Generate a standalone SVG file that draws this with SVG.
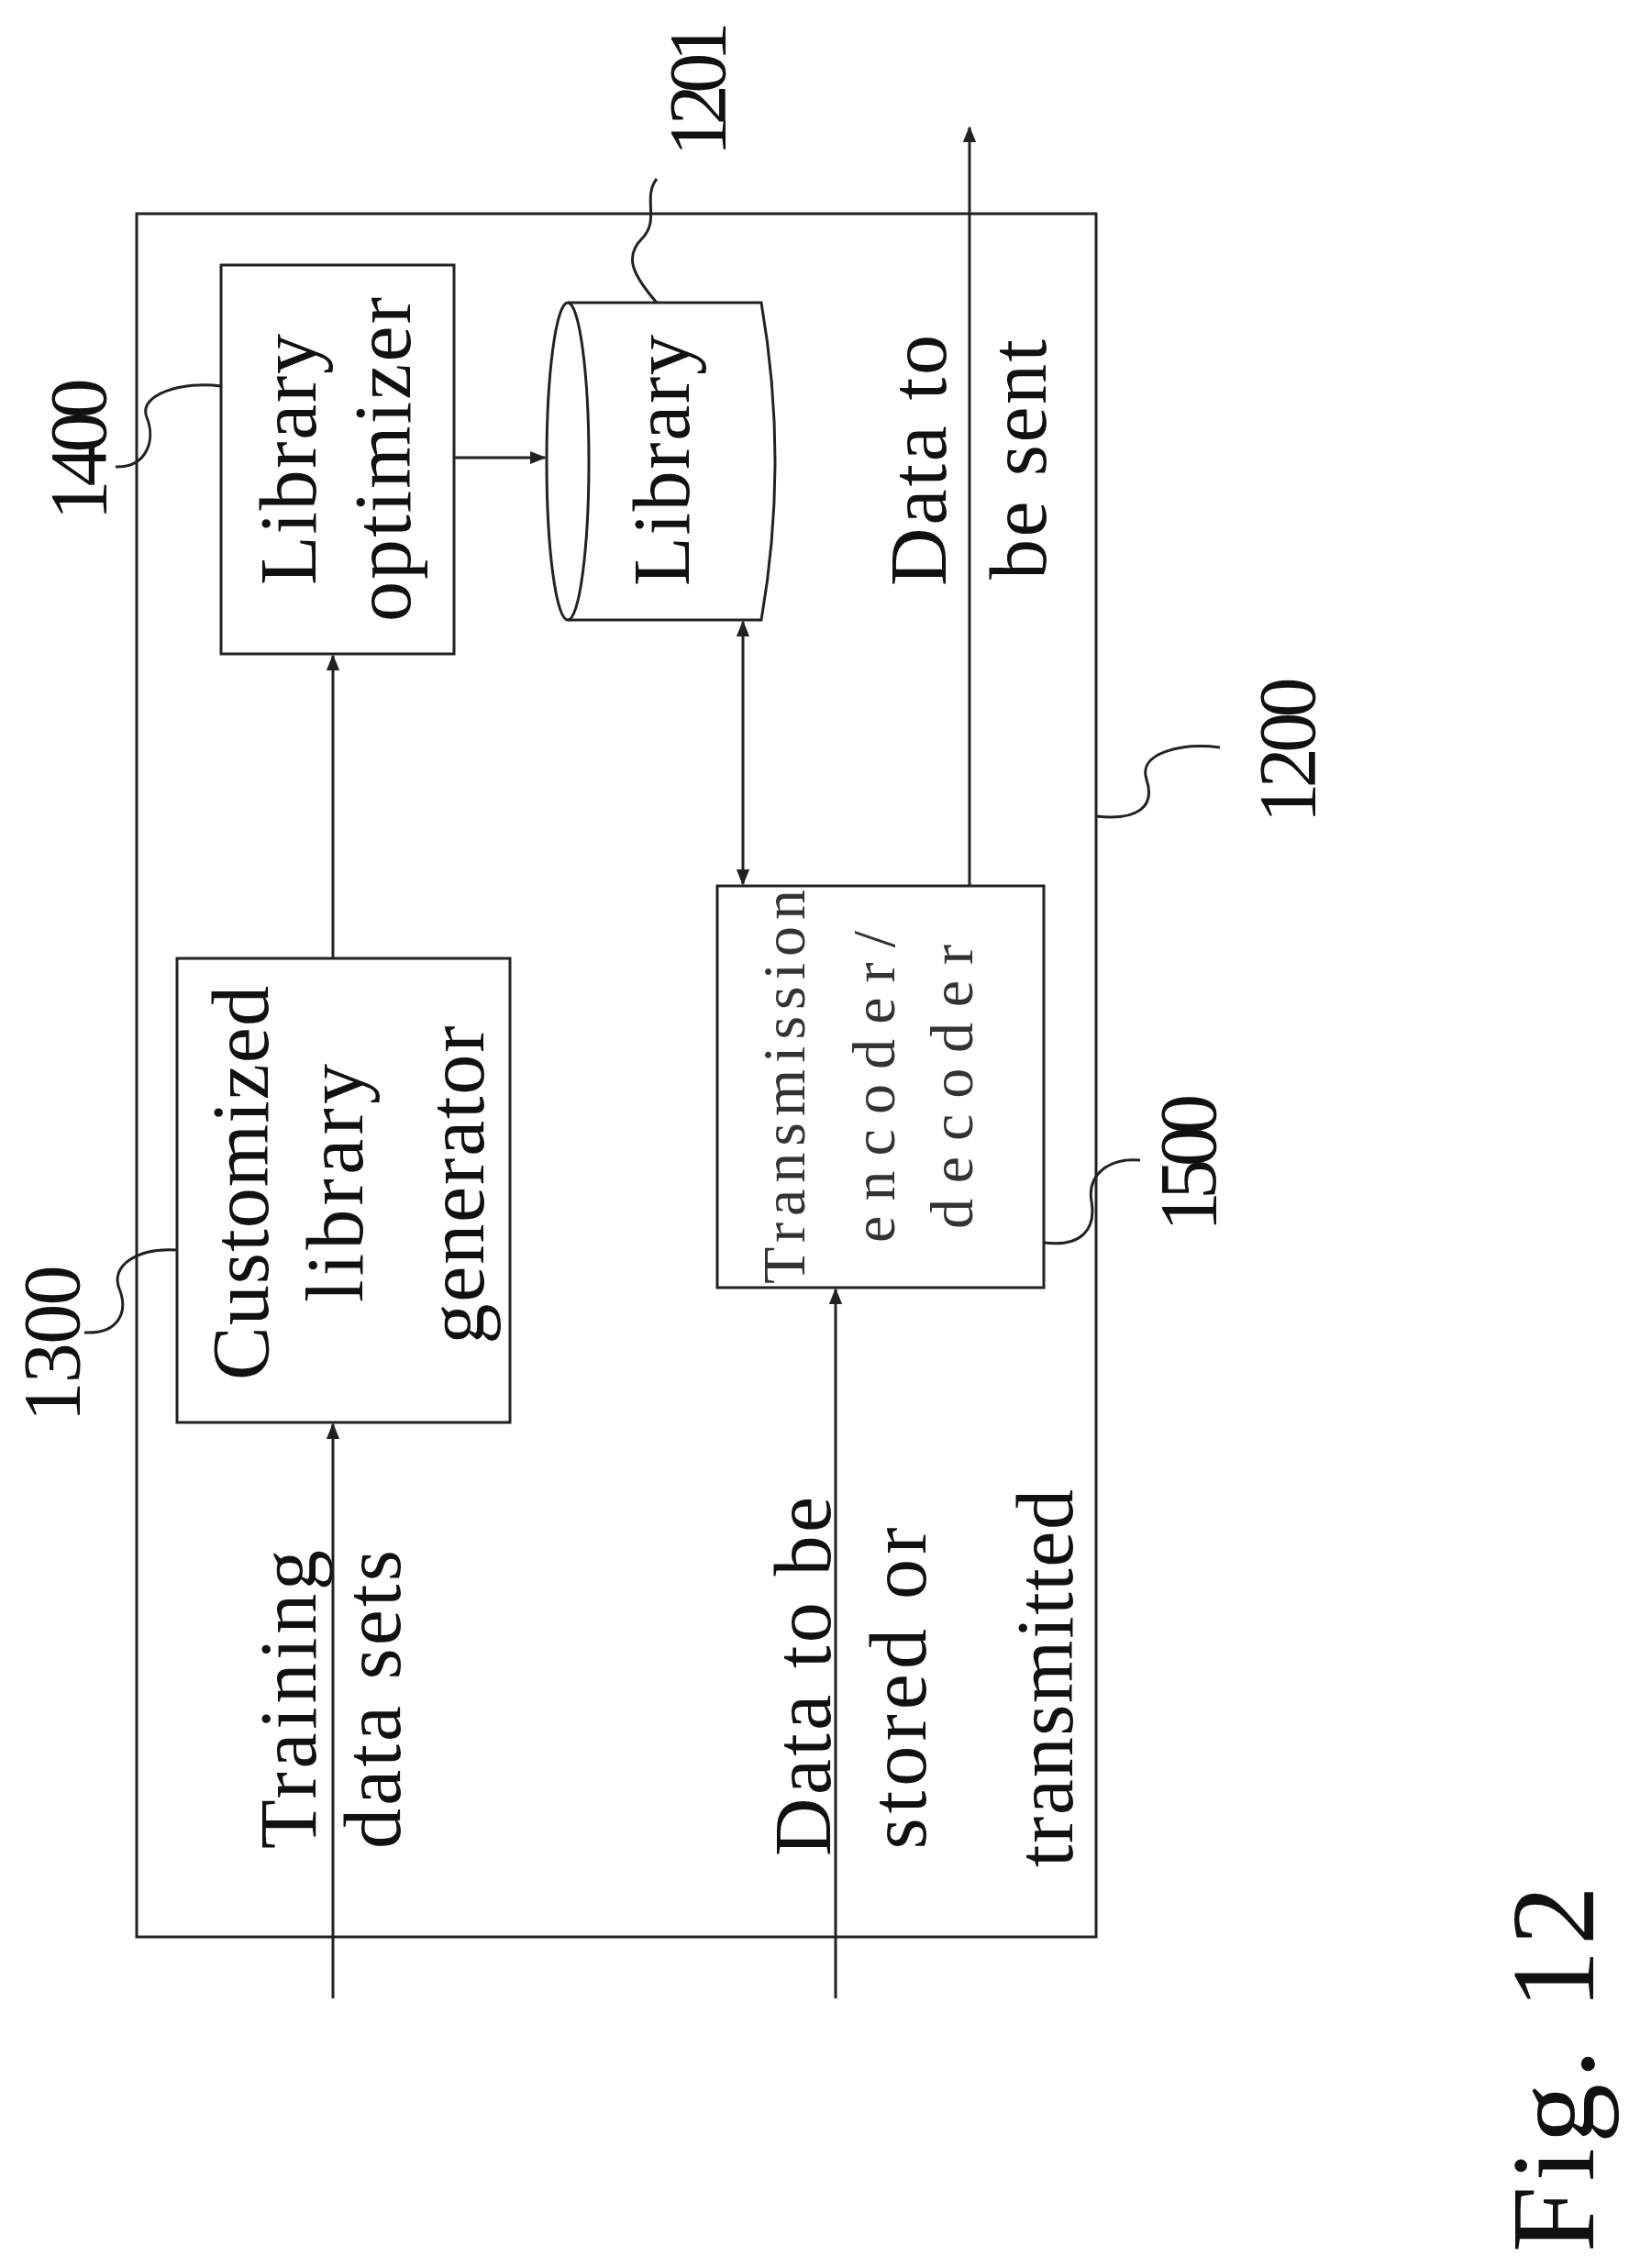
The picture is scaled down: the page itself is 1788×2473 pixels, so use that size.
<svg xmlns="http://www.w3.org/2000/svg" width="1788" height="2473" viewBox="0 0 1788 2473">
<style>
.b{fill:none;stroke:#222;stroke-width:3}
.l{fill:none;stroke:#222;stroke-width:3}
.t{font-family:"Liberation Serif",serif;font-size:88px;fill:#111;text-anchor:middle}
.s{font-family:"Liberation Serif",serif;font-size:66px;fill:#333;text-anchor:middle}
</style>
<defs>
<marker id="a" viewBox="0 0 10 10" refX="9" refY="5" markerWidth="6" markerHeight="6" orient="auto-start-reverse" markerUnits="strokeWidth"><path d="M0,1 L10,5 L0,9 Z" fill="#222"/></marker>
</defs>
<rect width="1788" height="2473" fill="#fff"/>
<g id="n1200"><rect class="b" x="149" y="233" width="1046" height="1879"/>
<path class="l" d="M1195,890 C1240,895 1260,880 1250,850 C1240,820 1290,810 1330,815"/>
<text class="t" transform="translate(1433,818) rotate(-90)" textLength="159">1200</text></g>
<g id="n1400"><rect class="b" x="241" y="289" width="254" height="424"/>
<text class="t" transform="translate(344,501) rotate(-90)" textLength="274">Library</text>
<text class="t" transform="translate(447,501) rotate(-90)" textLength="354">optimizer</text>
<path class="l" d="M126,509 C160,510 170,480 160,455 C150,430 200,415 241,421"/>
<text class="t" transform="translate(115,490) rotate(-90)" textLength="155">1400</text></g>
<g id="n1201"><path class="b" d="M619,330 L830,330 Q860,503 830,676 L619,676"/>
<ellipse class="b" cx="619" cy="503" rx="23" ry="173"/>
<text class="t" transform="translate(751,502) rotate(-90)" textLength="274">Library</text>
<path class="l" d="M716,330 C690,300 680,280 700,260 C720,240 700,215 716,195"/>
<text class="t" transform="translate(790,97) rotate(-90)" textLength="147">1201</text></g>
<g id="n1300"><rect class="b" x="193" y="1045" width="363" height="506"/>
<text class="t" transform="translate(292,1290) rotate(-90)" textLength="430">Customized</text>
<text class="t" transform="translate(395,1290) rotate(-90)" textLength="260">library</text>
<text class="t" transform="translate(527,1292) rotate(-90)" textLength="347">generator</text>
<path class="l" d="M92,1453 C130,1455 140,1430 130,1405 C120,1380 150,1360 193,1363"/>
<text class="t" transform="translate(86,1465) rotate(-90)" textLength="171">1300</text></g>
<g id="n1500"><rect class="b" x="782" y="966" width="356" height="438"/>
<text class="s" transform="translate(877,1185) rotate(-90)" textLength="430">Transmission</text>
<text class="s" transform="translate(975,1185) rotate(-90)" textLength="340">encoder/</text>
<text class="s" transform="translate(1060,1185) rotate(-90)" textLength="310">decoder</text>
<path class="l" d="M1138,1355 C1180,1360 1195,1340 1190,1310 C1185,1280 1210,1262 1243,1265"/>
<text class="t" transform="translate(1325,1268) rotate(-90)" textLength="150">1500</text></g>
<g id="labels">
<text class="t" transform="translate(344,1853) rotate(-90)" textLength="326">Training</text>
<text class="t" transform="translate(436,1853) rotate(-90)" textLength="326">data sets</text>
<text class="t" transform="translate(905,1828) rotate(-90)" textLength="392">Data to be</text>
<text class="t" transform="translate(1009,1841) rotate(-90)" textLength="351">stored or</text>
<text class="t" transform="translate(1169,1830) rotate(-90)" textLength="412">transmitted</text>
<text class="t" transform="translate(1031,502) rotate(-90)" textLength="274">Data to</text>
<text class="t" transform="translate(1140,501) rotate(-90)" textLength="262">be sent</text>
<text class="t" style="font-size:130px" transform="translate(1737,2256) rotate(-90)" textLength="400">Fig. 12</text>
</g>
<g id="connectors">
<path class="l" d="M363,2179 L363,1553" marker-end="url(#a)"/>
<path class="l" d="M363,1045 L363,715" marker-end="url(#a)"/>
<path class="l" d="M495,499 L594,499" marker-end="url(#a)"/>
<path class="l" d="M810,678 L810,964" marker-start="url(#a)" marker-end="url(#a)"/>
<path class="l" d="M911,2179 L911,1406" marker-end="url(#a)"/>
<path class="l" d="M1057,966 L1057,139" marker-end="url(#a)"/>
</g>
</svg>
